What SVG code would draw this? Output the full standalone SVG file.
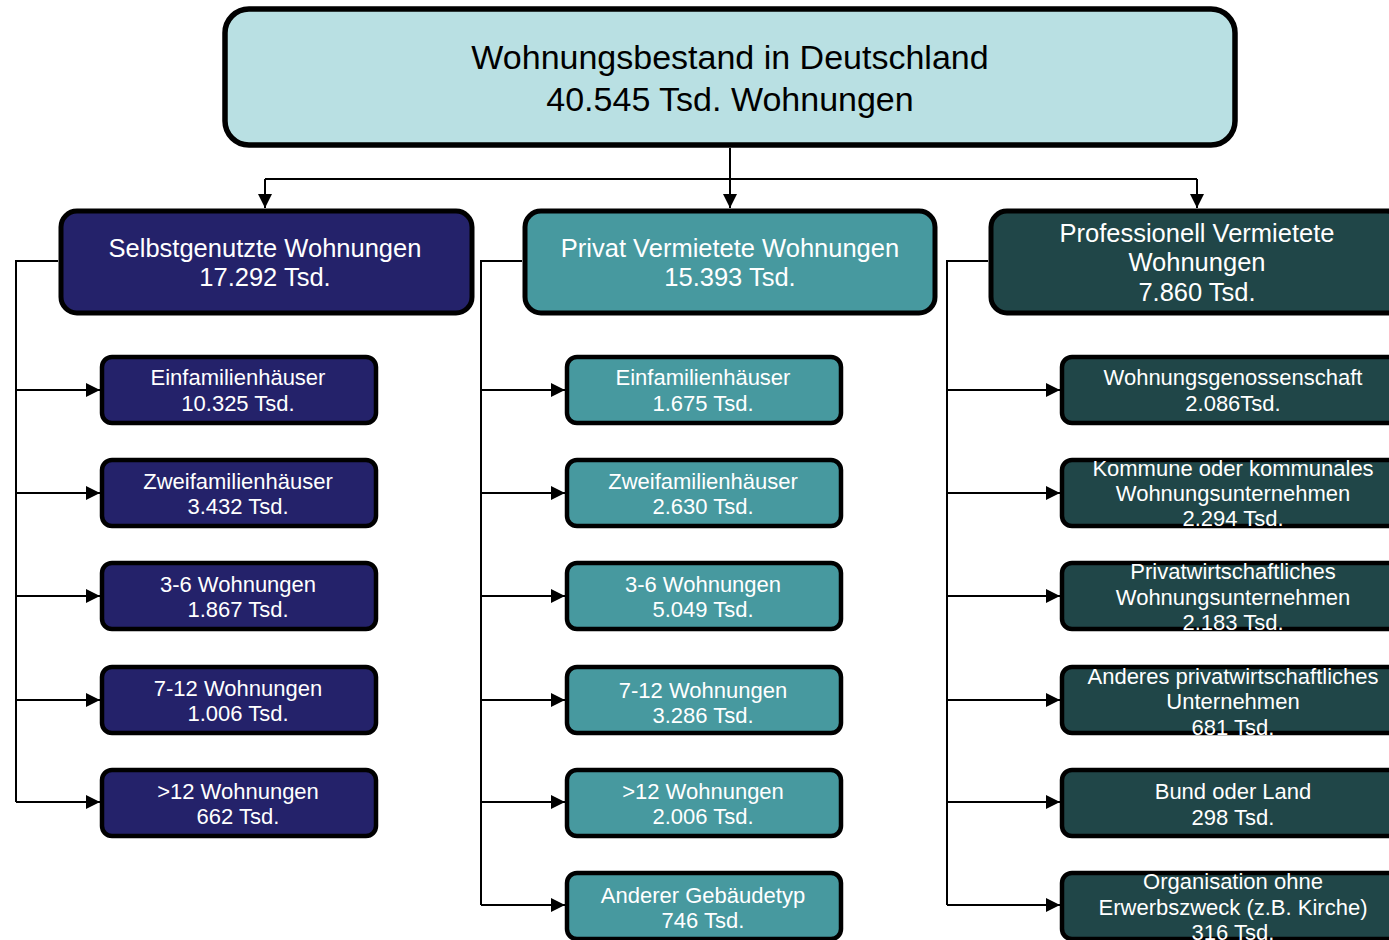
<svg xmlns="http://www.w3.org/2000/svg" width="1389" height="940" viewBox="0 0 1389 940">
<defs>
<marker id="arr" markerUnits="userSpaceOnUse" markerWidth="14" markerHeight="14" refX="14" refY="7" orient="auto">
<path d="M0,0 L14,7 L0,14 Z" fill="#000"/>
</marker>
<style>
.top{fill:#b9e0e3;stroke:#000;stroke-width:5.5}
.l1{stroke:#000;stroke-width:5}
.ch{stroke:#000;stroke-width:4.5}
.navy{fill:#24226a}
.teal{fill:#47999f}
.dg{fill:#204648}
.t{font-family:"Liberation Sans",Arial,sans-serif;text-anchor:middle;fill:#fff}
.tt{font-family:"Liberation Sans",Arial,sans-serif;text-anchor:middle;fill:#000;font-size:34px}
.t1{font-size:25.5px}
.t2{font-size:22px}
.con{fill:none;stroke:#000;stroke-width:2}
</style>
</defs>
<rect width="1389" height="940" fill="#fff"/>
<g id="connectors">
<path class="con" d="M730,148 V179 M265,179 H1197"/>
<path class="con" d="M265,179 V208" marker-end="url(#arr)"/>
<path class="con" d="M730,179 V208" marker-end="url(#arr)"/>
<path class="con" d="M1197,179 V208" marker-end="url(#arr)"/>
<path class="con" d="M58,261 H16 V802"/>
<path class="con" d="M16,390 H100" marker-end="url(#arr)"/>
<path class="con" d="M16,493 H100" marker-end="url(#arr)"/>
<path class="con" d="M16,596 H100" marker-end="url(#arr)"/>
<path class="con" d="M16,700 H100" marker-end="url(#arr)"/>
<path class="con" d="M16,802 H100" marker-end="url(#arr)"/>
<path class="con" d="M522,261 H481 V905"/>
<path class="con" d="M481,390 H565" marker-end="url(#arr)"/>
<path class="con" d="M481,493 H565" marker-end="url(#arr)"/>
<path class="con" d="M481,596 H565" marker-end="url(#arr)"/>
<path class="con" d="M481,700 H565" marker-end="url(#arr)"/>
<path class="con" d="M481,802 H565" marker-end="url(#arr)"/>
<path class="con" d="M481,905 H565" marker-end="url(#arr)"/>
<path class="con" d="M988,261 H947 V905"/>
<path class="con" d="M947,390 H1060" marker-end="url(#arr)"/>
<path class="con" d="M947,493 H1060" marker-end="url(#arr)"/>
<path class="con" d="M947,596 H1060" marker-end="url(#arr)"/>
<path class="con" d="M947,700 H1060" marker-end="url(#arr)"/>
<path class="con" d="M947,802 H1060" marker-end="url(#arr)"/>
<path class="con" d="M947,905 H1060" marker-end="url(#arr)"/>
</g>
<g id="root">
<rect class="top" x="225" y="9" width="1010" height="136" rx="24"/>
<text class="tt" x="730" y="69">Wohnungsbestand in Deutschland</text>
<text class="tt" x="730" y="111">40.545 Tsd. Wohnungen</text>
</g>
<g id="selbst">
<rect class="l1 navy" x="61" y="211" width="411" height="102" rx="16"/>
<text class="t t1" x="265" y="257">Selbstgenutzte Wohnungen</text>
<text class="t t1" x="265" y="286">17.292 Tsd.</text>
</g>
<g id="privat">
<rect class="l1 teal" x="525" y="211" width="410" height="102" rx="16"/>
<text class="t t1" x="730" y="257">Privat Vermietete Wohnungen</text>
<text class="t t1" x="730" y="286">15.393 Tsd.</text>
</g>
<g id="prof">
<rect class="l1 dg" x="991" y="211" width="412" height="102" rx="16"/>
<text class="t t1" x="1197" y="242">Professionell Vermietete</text>
<text class="t t1" x="1197" y="271">Wohnungen</text>
<text class="t t1" x="1197" y="301">7.860 Tsd.</text>
</g>
<g id="s1"><rect class="ch navy" x="102" y="357" width="274" height="66" rx="10"/><text class="t t2" x="238" y="385">Einfamilienhäuser</text><text class="t t2" x="238" y="411">10.325 Tsd.</text></g>
<g id="s2"><rect class="ch navy" x="102" y="460" width="274" height="66" rx="10"/><text class="t t2" x="238" y="489">Zweifamilienhäuser</text><text class="t t2" x="238" y="514">3.432 Tsd.</text></g>
<g id="s3"><rect class="ch navy" x="102" y="563" width="274" height="66" rx="10"/><text class="t t2" x="238" y="592">3-6 Wohnungen</text><text class="t t2" x="238" y="617">1.867 Tsd.</text></g>
<g id="s4"><rect class="ch navy" x="102" y="667" width="274" height="66" rx="10"/><text class="t t2" x="238" y="696">7-12 Wohnungen</text><text class="t t2" x="238" y="721">1.006 Tsd.</text></g>
<g id="s5"><rect class="ch navy" x="102" y="770" width="274" height="66" rx="10"/><text class="t t2" x="238" y="799">&gt;12 Wohnungen</text><text class="t t2" x="238" y="824">662 Tsd.</text></g>
<g id="p1"><rect class="ch teal" x="567" y="357" width="274" height="66" rx="10"/><text class="t t2" x="703" y="385">Einfamilienhäuser</text><text class="t t2" x="703" y="411">1.675 Tsd.</text></g>
<g id="p2"><rect class="ch teal" x="567" y="460" width="274" height="66" rx="10"/><text class="t t2" x="703" y="489">Zweifamilienhäuser</text><text class="t t2" x="703" y="514">2.630 Tsd.</text></g>
<g id="p3"><rect class="ch teal" x="567" y="563" width="274" height="66" rx="10"/><text class="t t2" x="703" y="592">3-6 Wohnungen</text><text class="t t2" x="703" y="617">5.049 Tsd.</text></g>
<g id="p4"><rect class="ch teal" x="567" y="667" width="274" height="66" rx="10"/><text class="t t2" x="703" y="698">7-12 Wohnungen</text><text class="t t2" x="703" y="723">3.286 Tsd.</text></g>
<g id="p5"><rect class="ch teal" x="567" y="770" width="274" height="66" rx="10"/><text class="t t2" x="703" y="799">&gt;12 Wohnungen</text><text class="t t2" x="703" y="824">2.006 Tsd.</text></g>
<g id="p6"><rect class="ch teal" x="567" y="873" width="274" height="66" rx="10"/><text class="t t2" x="703" y="903">Anderer Gebäudetyp</text><text class="t t2" x="703" y="928">746 Tsd.</text></g>
<g id="r1"><rect class="ch dg" x="1062" y="357" width="342" height="66" rx="10"/><text class="t t2" x="1233" y="385">Wohnungsgenossenschaft</text><text class="t t2" x="1233" y="411">2.086Tsd.</text></g>
<g id="r2"><rect class="ch dg" x="1062" y="460" width="342" height="66" rx="10"/><text class="t t2" x="1233" y="476">Kommune oder kommunales</text><text class="t t2" x="1233" y="501">Wohnungsunternehmen</text><text class="t t2" x="1233" y="526">2.294 Tsd.</text></g>
<g id="r3"><rect class="ch dg" x="1062" y="563" width="342" height="66" rx="10"/><text class="t t2" x="1233" y="579">Privatwirtschaftliches</text><text class="t t2" x="1233" y="605">Wohnungsunternehmen</text><text class="t t2" x="1233" y="630">2.183 Tsd.</text></g>
<g id="r4"><rect class="ch dg" x="1062" y="667" width="342" height="66" rx="10"/><text class="t t2" x="1233" y="684">Anderes privatwirtschaftliches</text><text class="t t2" x="1233" y="709">Unternehmen</text><text class="t t2" x="1233" y="735">681 Tsd.</text></g>
<g id="r5"><rect class="ch dg" x="1062" y="770" width="342" height="66" rx="10"/><text class="t t2" x="1233" y="799">Bund oder Land</text><text class="t t2" x="1233" y="825">298 Tsd.</text></g>
<g id="r6"><rect class="ch dg" x="1062" y="873" width="342" height="66" rx="10"/><text class="t t2" x="1233" y="889">Organisation ohne</text><text class="t t2" x="1233" y="915">Erwerbszweck (z.B. Kirche)</text><text class="t t2" x="1233" y="940">316 Tsd.</text></g>
</svg>
